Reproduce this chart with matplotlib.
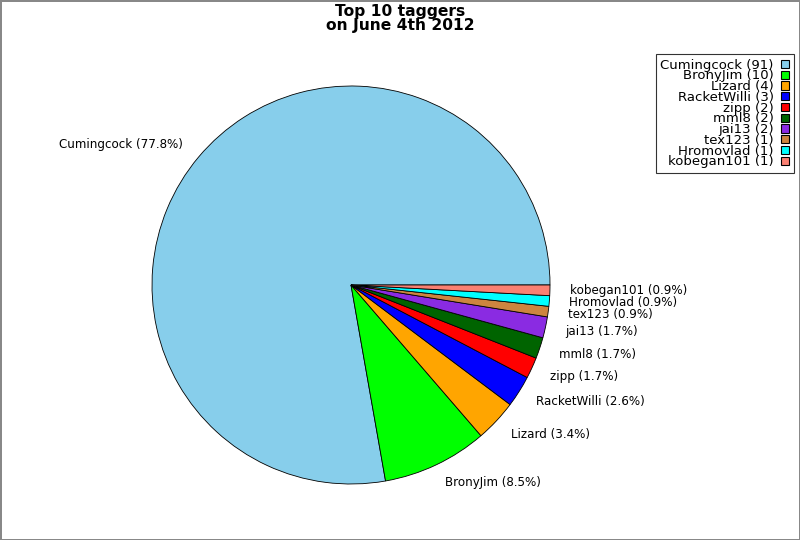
import matplotlib
matplotlib.use("Agg")
import matplotlib.pyplot as plt
from matplotlib.patches import Patch

names = ["Cumingcock", "BronyJim", "Lizard", "RacketWilli", "zipp", "mml8",
         "jai13", "tex123", "Hromovlad", "kobegan101"]
counts = [91, 10, 4, 3, 2, 2, 2, 1, 1, 1]
colors = ["skyblue", "lime", "orange", "blue", "red", "darkgreen",
          "blueviolet", "peru", "cyan", "salmon"]

total = sum(counts)
pie_labels = [f"{n} ({c / total * 100:.1f}%)" for n, c in zip(names, counts)]
legend_labels = [f"{n} ({c})" for n, c in zip(names, counts)]

fig = plt.figure(figsize=(8, 5.4), dpi=100)
fig.patch.set_edgecolor("#888888")
fig.patch.set_linewidth(2)

ax = fig.add_axes([152 / 800, (540 - 484) / 540, 398 / 800, 398 / 540])
wedges, texts = ax.pie(counts, labels=pie_labels, colors=colors, startangle=0,
                       counterclock=True, labeldistance=1.1,
                       wedgeprops=dict(edgecolor="black", linewidth=0.6),
                       textprops=dict(fontsize=8.6))
ax.set_xlim(-1, 1)
ax.set_ylim(-1, 1)
ax.set_aspect("equal")
ax.axis("off")

fig.suptitle("Top 10 taggers\non June 4th 2012", x=0.5, y=0.993,
             fontsize=11.2, fontweight="bold", linespacing=0.95)

handles = [Patch(facecolor=c, edgecolor="black", linewidth=0.8) for c in colors]
leg = fig.legend(handles, legend_labels, loc="upper right",
                 bbox_to_anchor=(794 / 800, (540 - 54) / 540), borderaxespad=0,
                 markerfirst=False, fontsize=9.5, frameon=True, fancybox=False,
                 edgecolor="black", handlelength=0.6, handleheight=0.6,
                 handletextpad=0.6, labelspacing=-0.17, borderpad=0.35)
for t in leg.get_texts():
    t.set_ha("right")
leg.get_frame().set_linewidth(0.8)

fig.savefig("out.png", dpi=100)
